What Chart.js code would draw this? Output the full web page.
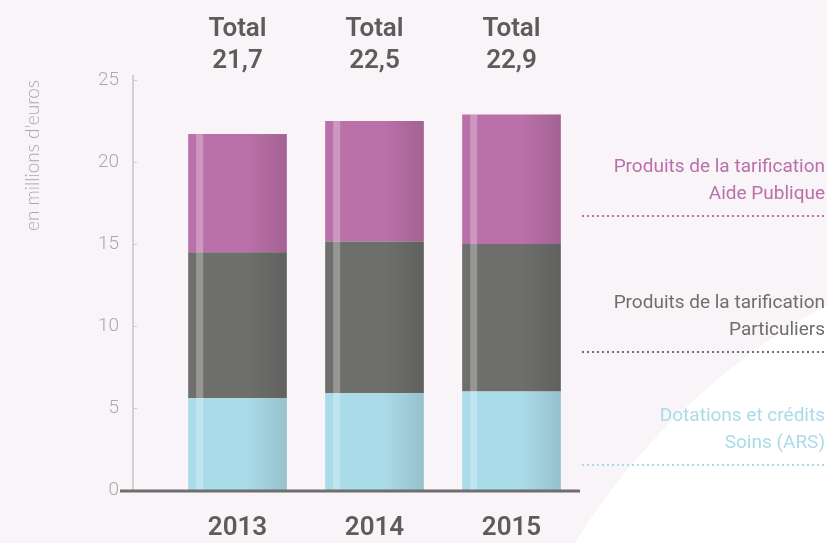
<!DOCTYPE html>
<html lang="fr">
<head>
<meta charset="utf-8">
<title>Produits 2013-2015</title>
<script src="https://cdn.jsdelivr.net/npm/chart.js@4.4.1/dist/chart.umd.min.js"></script>
<style>
  html, body { margin: 0; padding: 0; background: #f8f4f8; }
  #wrap { position: relative; width: 827px; height: 543px; }
</style>
</head>
<body>
<div id="wrap"><canvas id="chart" width="827" height="543"></canvas></div>
<script>
// Data
const years = ['2013', '2014', '2015'];
const soinsARS = [5.6, 5.9, 6.0];
const particuliers = [8.9, 9.25, 9.0];
const aidePublique = [7.2, 7.35, 7.9];
const yTickStep = 5;
const yMax = 25;

// Right-hand legend (two lines each)
const legendLines = [
    ['Produits de la tarification', 'Aide Publique'],
    ['Produits de la tarification', 'Particuliers'],
    ['Dotations et crédits', 'Soins (ARS)']
];

const PINK = '#ba70a8';
const GREY = '#6e6e6c';
const BLUE = '#aadbe8';
const TEXT = '#5c5c5c';
const NARROW = "'Roboto', sans-serif";

function fmt(v) {
    return v.toFixed(1).replace('.', ',');
}

// Background with the large white curve at the lower right
const backgroundPlugin = {
    id: 'bg',
    beforeDraw(chart) {
        const ctx = chart.ctx;
        ctx.save();
        ctx.fillStyle = '#f8f4f8';
        ctx.fillRect(0, 0, chart.width, chart.height);
        ctx.beginPath();
        ctx.arc(1150, 900, 677, 0, Math.PI * 2);
        ctx.fillStyle = '#ffffff';
        ctx.fill();
        ctx.restore();
    }
};

// Axis lines, gloss on bars, year labels, totals and legend
const decoPlugin = {
    id: 'deco',
    afterDatasetsDraw(chart) {
        const ctx = chart.ctx;
        ctx.save();
        chart.data.datasets.forEach((ds, di) => {
            const meta = chart.getDatasetMeta(di);
            meta.data.forEach(bar => {
                const left = bar.x - bar.width / 2;
                const top = Math.min(bar.y, bar.base);
                const h = Math.abs(bar.base - bar.y);
                // light stripe
                ctx.fillStyle = 'rgba(255,255,255,0.28)';
                ctx.fillRect(left + 8, top, 7, h);
                // darker right side
                const g = ctx.createLinearGradient(left + bar.width * 0.6, 0, left + bar.width, 0);
                g.addColorStop(0, 'rgba(0,0,0,0)');
                g.addColorStop(1, 'rgba(0,0,0,0.12)');
                ctx.fillStyle = g;
                ctx.fillRect(left + bar.width * 0.6, top, bar.width * 0.4, h);
            });
        });

        const y = chart.scales.y;
        const x = chart.scales.x;
        const axisX = 133;
        const zeroY = y.getPixelForValue(0);
        // vertical axis
        ctx.strokeStyle = '#d3d0d3';
        ctx.lineWidth = 2;
        ctx.beginPath();
        ctx.moveTo(axisX, y.getPixelForValue(yMax) - 5);
        ctx.lineTo(axisX, zeroY);
        ctx.stroke();
        ctx.lineWidth = 1;
        y.ticks.forEach(t => {
            const py = Math.round(y.getPixelForValue(t.value)) + 0.5;
            ctx.beginPath();
            ctx.moveTo(axisX, py);
            ctx.lineTo(axisX + 4, py);
            ctx.stroke();
        });
        // base line
        ctx.strokeStyle = '#6e6e6e';
        ctx.lineWidth = 3;
        ctx.beginPath();
        ctx.moveTo(120, zeroY + 1);
        ctx.lineTo(chart.chartArea.right, zeroY + 1);
        ctx.stroke();

        // year labels and totals
        ctx.fillStyle = TEXT;
        ctx.textAlign = 'center';
        ctx.textBaseline = 'middle';
        ctx.font = "600 26px " + NARROW;
        years.forEach((yr, i) => {
            const total = soinsARS[i] + particuliers[i] + aidePublique[i];
            const cx = x.getPixelForValue(i);
            ctx.fillText(yr, cx, zeroY + 38);
            ctx.fillText('Total', cx, 29);
            ctx.fillText(fmt(total), cx, 61);
        });

        // right legend
        const colors = [PINK, GREY, BLUE];
        const lineY = [216, 352, 465];
        ctx.font = "19px " + NARROW;
        ctx.textAlign = 'right';
        ctx.textBaseline = 'alphabetic';
        legendLines.forEach((lines, i) => {
            ctx.fillStyle = colors[i];
            ctx.fillText(lines[0], 825, lineY[i] - 44);
            ctx.fillText(lines[1], 825, lineY[i] - 17);
            ctx.strokeStyle = colors[i];
            ctx.lineWidth = 2;
            ctx.setLineDash([2, 3]);
            ctx.beginPath();
            ctx.moveTo(582, lineY[i]);
            ctx.lineTo(827, lineY[i]);
            ctx.stroke();
            ctx.setLineDash([]);
        });
        ctx.restore();
    }
};

new Chart(document.getElementById('chart'), {
    type: 'bar',
    data: {
        labels: years,
        datasets: [
            { label: 'Dotations et crédits Soins (ARS)', data: soinsARS, backgroundColor: BLUE },
            { label: 'Produits de la tarification Particuliers', data: particuliers, backgroundColor: GREY },
            { label: 'Produits de la tarification Aide Publique', data: aidePublique, backgroundColor: PINK }
        ]
    },
    options: {
        responsive: false,
        animation: false,
        layout: { padding: { top: 80, right: 247, left: 0, bottom: 53 } },
        datasets: { bar: { barPercentage: 0.72, categoryPercentage: 1 } },
        plugins: { legend: { display: false }, tooltip: { enabled: false } },
        scales: {
            x: {
                stacked: true,
                grid: { display: false, drawTicks: false },
                border: { display: false },
                ticks: { display: false }
            },
            y: {
                stacked: true,
                min: 0,
                max: yMax,
                grid: { display: false, drawTicks: false },
                border: { display: false },
                ticks: {
                    stepSize: yTickStep,
                    color: '#a9a9a9',
                    padding: 50,
                    font: { family: "'Roboto', sans-serif", size: 19, weight: '300' }
                },
                title: {
                    display: true,
                    text: "en millions d'euros",
                    align: 'end',
                    color: '#a9a9a9',
                    padding: { top: 21, bottom: 0 },
                    font: { family: "'Lato', sans-serif", size: 19, weight: '300' }
                },
                afterFit(scale) {
                    scale.width = 169;
                    // the large tick padding should not push the plot area in
                    scale.paddingTop = 12;
                    scale.paddingBottom = 12;
                }
            }
        }
    },
    plugins: [backgroundPlugin, decoPlugin]
});
</script>
</body>
</html>
